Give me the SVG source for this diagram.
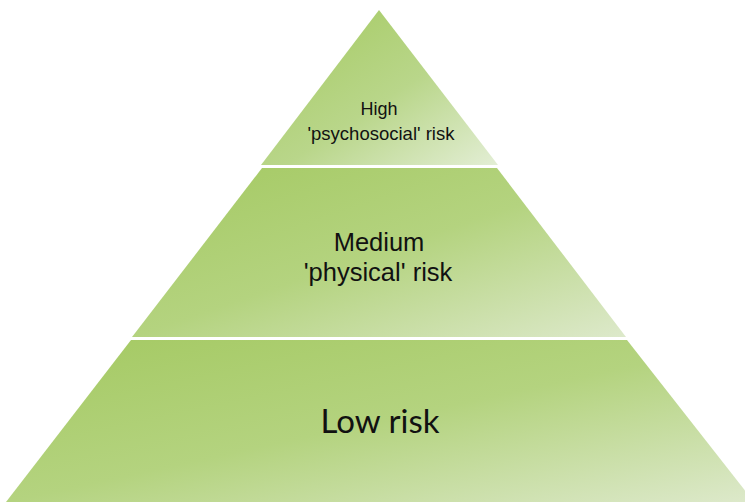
<svg xmlns="http://www.w3.org/2000/svg" width="745" height="502" viewBox="0 0 745 502">
<defs>
<linearGradient id="g1" x1="0" y1="0" x2="1" y2="1">
<stop offset="0" stop-color="#a3c95e"/><stop offset="0.55" stop-color="#b9d68a"/><stop offset="1" stop-color="#e3eed5"/>
</linearGradient>
<linearGradient id="g2" x1="0" y1="0" x2="1" y2="1">
<stop offset="0" stop-color="#a4c962"/><stop offset="0.5" stop-color="#b4d37f"/><stop offset="1" stop-color="#dde9cb"/>
</linearGradient>
<style>
text{fill:#111;text-anchor:middle}
.a{font-family:"Liberation Sans",Arial,sans-serif}
.b{font-family:Lato,"Liberation Sans",sans-serif}
</style>
</defs>
<rect width="745" height="502" fill="#fff"/>
<g id="top">
<polygon points="379,10 498,165 261,165" fill="url(#g1)"/>
<text class="a" x="379" y="115" font-size="18">High</text>
<text class="a" x="381" y="140" font-size="18.5">'psychosocial' risk</text>
</g>
<g id="middle">
<polygon points="262,168 497,168 626,337 132,337" fill="url(#g2)"/>
<text class="a" x="379" y="251" font-size="25.5">Medium</text>
<text class="a" x="378" y="281" font-size="25.5">'physical' risk</text>
</g>
<g id="bottom">
<polygon points="131,340 627,340 754,502 6,502" fill="url(#g2)"/>
<text class="b" x="380" y="433" font-size="33">Low risk</text>
</g>
</svg>
